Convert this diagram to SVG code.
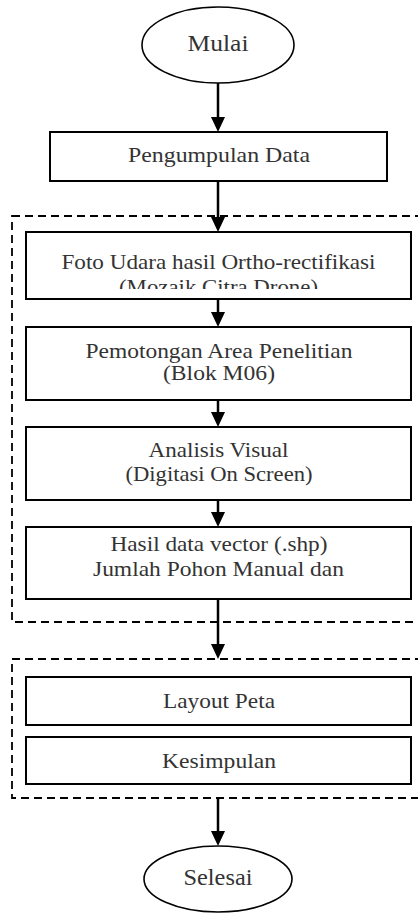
<svg xmlns="http://www.w3.org/2000/svg" width="418" height="915" viewBox="0 0 418 915">
<style>
.box{fill:#fff;stroke:#000;stroke-width:2}
.term{fill:#fff;stroke:#000;stroke-width:1.6}
.grp{fill:none;stroke:#000;stroke-width:1.8;stroke-dasharray:8 5}
.conn{stroke:#000;stroke-width:2.5;fill:none}
text{font-family:"Liberation Serif","Times New Roman",serif;font-size:21px;fill:#333;text-anchor:middle}
.big{font-size:23px}
</style>
<defs>
<marker id="ah" markerUnits="userSpaceOnUse" markerWidth="16" markerHeight="16" refX="3" refY="7" orient="auto" viewBox="0 0 16 14">
<path d="M0,0 L15,7 L0,14 z" fill="#000"/>
</marker>
<clipPath id="clipFoto"><rect x="26" y="232" width="385" height="57"/></clipPath>
</defs>

<g id="groups">
<rect class="grp" x="12" y="216" width="420" height="406"/>
<rect class="grp" x="12" y="659" width="420" height="139"/>
</g>

<g id="connectors">
<line class="conn" x1="218" y1="83" x2="218" y2="120" marker-end="url(#ah)"/>
<line class="conn" x1="218" y1="181" x2="218" y2="220" marker-end="url(#ah)"/>
<line class="conn" x1="218" y1="299" x2="218" y2="315" marker-end="url(#ah)"/>
<line class="conn" x1="218" y1="400" x2="218" y2="415" marker-end="url(#ah)"/>
<line class="conn" x1="218" y1="500" x2="218" y2="515" marker-end="url(#ah)"/>
<line class="conn" x1="218" y1="599" x2="218" y2="647" marker-end="url(#ah)"/>
<line class="conn" x1="218" y1="798" x2="218" y2="834" marker-end="url(#ah)"/>
</g>

<g id="mulai">
<ellipse class="term" cx="218" cy="45" rx="76" ry="38"/>
<text class="big" x="218" y="51" textLength="61" lengthAdjust="spacingAndGlyphs">Mulai</text>
</g>

<g id="pengumpulan">
<rect class="box" x="50" y="132" width="337" height="49"/>
<text x="219" y="162" textLength="182" lengthAdjust="spacingAndGlyphs">Pengumpulan Data</text>
</g>

<g id="foto">
<rect class="box" x="26" y="232" width="385" height="67"/>
<g clip-path="url(#clipFoto)">
<text x="218.5" y="269" textLength="314" lengthAdjust="spacingAndGlyphs">Foto Udara hasil Ortho-rectifikasi</text>
<text x="218.5" y="294" textLength="199" lengthAdjust="spacingAndGlyphs">(Mozaik Citra Drone)</text>
</g>
</g>

<g id="pemotongan">
<rect class="box" x="26" y="327" width="385" height="73"/>
<text x="219" y="358" textLength="267" lengthAdjust="spacingAndGlyphs">Pemotongan Area Penelitian</text>
<text x="219" y="380" textLength="112" lengthAdjust="spacingAndGlyphs">(Blok M06)</text>
</g>

<g id="analisis">
<rect class="box" x="26" y="427" width="385" height="73"/>
<text x="218.5" y="457" textLength="140" lengthAdjust="spacingAndGlyphs">Analisis Visual</text>
<text x="219" y="481" textLength="187" lengthAdjust="spacingAndGlyphs">(Digitasi On Screen)</text>
</g>

<g id="hasil">
<rect class="box" x="26" y="527" width="385" height="72"/>
<text x="219" y="551" textLength="217" lengthAdjust="spacingAndGlyphs">Hasil data vector (.shp)</text>
<text x="218.5" y="576" textLength="251" lengthAdjust="spacingAndGlyphs">Jumlah Pohon Manual dan</text>
</g>

<g id="layout">
<rect class="box" x="26" y="677" width="385" height="48"/>
<text x="219" y="708" textLength="112" lengthAdjust="spacingAndGlyphs">Layout Peta</text>
</g>

<g id="kesimpulan">
<rect class="box" x="26" y="737" width="385" height="47"/>
<text x="219" y="768" textLength="114" lengthAdjust="spacingAndGlyphs">Kesimpulan</text>
</g>

<g id="selesai">
<ellipse class="term" cx="218" cy="879" rx="74" ry="33"/>
<text class="big" x="218" y="885" textLength="69" lengthAdjust="spacingAndGlyphs">Selesai</text>
</g>
</svg>
